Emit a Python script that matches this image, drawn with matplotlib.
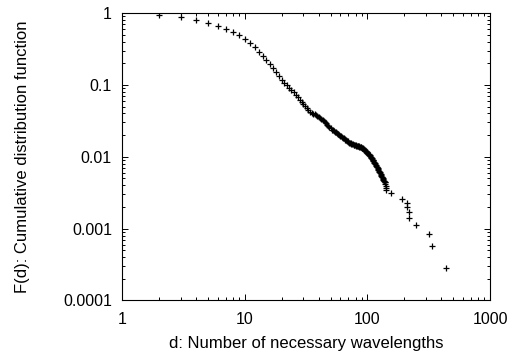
import matplotlib
matplotlib.use("Agg")
import matplotlib.pyplot as plt
from matplotlib.ticker import FixedLocator, FixedFormatter, LogLocator, NullFormatter

# Number of necessary wavelengths d
d_values = list(range(2, 144)) + [156, 190, 210, 211, 217, 218, 249, 319, 336, 439]

# Cumulative distribution function F(d)
F_values = [
    0.95, 0.88, 0.80, 0.735, 0.665, 0.60, 0.55, 0.494, 0.437,            # 2-10
    0.387, 0.337, 0.289, 0.252, 0.222, 0.196, 0.171, 0.152, 0.134, 0.118,  # 11-20
    0.1074, 0.0990, 0.0916, 0.0850, 0.079, 0.0728, 0.0673, 0.0624, 0.058, 0.0542,  # 21-30
    0.0509, 0.0478, 0.0450, 0.0424, 0.0411, 0.0399, 0.0388, 0.0378, 0.0368, 0.0358,  # 31-40
    0.0346, 0.0335, 0.0324, 0.0314, 0.0305, 0.0292, 0.0280, 0.0268, 0.0258, 0.0248,  # 41-50
    0.0238, 0.0233, 0.0227, 0.0222, 0.0218, 0.0213, 0.0209, 0.0204, 0.0200, 0.0196,  # 51-60
    0.0192, 0.0188, 0.0184, 0.0180, 0.0177, 0.0173, 0.0170, 0.0166, 0.0163, 0.0160,  # 61-70
    0.0157, 0.0155, 0.0154, 0.0152, 0.0151, 0.0149, 0.0148, 0.0147, 0.0146, 0.0145,  # 71-80
    0.0143, 0.0142, 0.0141, 0.0140, 0.0139, 0.0138, 0.0137, 0.0136, 0.0135, 0.0134,  # 81-90
    0.0132, 0.0131, 0.0129, 0.0126, 0.0124, 0.0122, 0.0120, 0.0118, 0.01156, 0.01132,  # 91-100
    0.01108, 0.01085, 0.01063, 0.01041, 0.0102, 0.00997, 0.00975, 0.00953, 0.00931, 0.00910,  # 101-110
    0.00890, 0.0087, 0.00848, 0.00827, 0.00807, 0.00787, 0.00767, 0.00748, 0.0073, 0.00710,  # 111-120
    0.00691, 0.00673, 0.00655, 0.00637, 0.0062, 0.00604, 0.00588, 0.00573, 0.00558, 0.00544,  # 121-130
    0.0053, 0.00517, 0.00505, 0.00492, 0.0048, 0.00467, 0.00455, 0.00442, 0.0044, 0.0042,  # 131-140
    0.00398, 0.0037, 0.0034,                                               # 141-143
    0.00312, 0.00256, 0.00227, 0.00199, 0.0017, 0.00142, 0.00114, 0.000852, 0.000568, 0.000284,
]

x_ticks = [1, 10, 100, 1000]
x_tick_labels = ["1", "10", "100", "1000"]
y_ticks = [0.0001, 0.001, 0.01, 0.1, 1]
y_tick_labels = ["0.0001", "0.001", "0.01", "0.1", "1"]

plt.rcParams["font.family"] = ["Liberation Sans", "DejaVu Sans"]
plt.rcParams["font.size"] = 11

fig = plt.figure(figsize=(5.26, 3.56), dpi=100)
ax = fig.add_axes([0.2325, 0.1559, 0.6991, 0.8076])

ax.plot(d_values, F_values, linestyle="none", marker="+", markersize=4.5,
        markeredgewidth=0.9, color="black")

ax.set_xscale("log")
ax.set_yscale("log")
ax.set_xlim(1, 1000)
ax.set_ylim(0.0001, 1)

ax.xaxis.set_major_locator(FixedLocator(x_ticks))
ax.xaxis.set_major_formatter(FixedFormatter(x_tick_labels))
ax.yaxis.set_major_locator(FixedLocator(y_ticks))
ax.yaxis.set_major_formatter(FixedFormatter(y_tick_labels))
ax.xaxis.set_minor_locator(LogLocator(base=10, subs=range(2, 10), numticks=20))
ax.yaxis.set_minor_locator(LogLocator(base=10, subs=range(2, 10), numticks=20))
ax.xaxis.set_minor_formatter(NullFormatter())
ax.yaxis.set_minor_formatter(NullFormatter())

ax.tick_params(which="both", direction="in", top=True, right=True, width=0.7, colors="black")
ax.tick_params(which="major", length=4.0, labelsize=11.5)
ax.tick_params(axis="y", which="major", pad=7.5)
ax.tick_params(axis="x", which="major", pad=8)
ax.tick_params(which="minor", length=2.0)
for s in ax.spines.values():
    s.set_linewidth(0.8)
    s.set_color("black")

ax.set_xlabel("d: Number of necessary wavelengths", fontsize=12, labelpad=7)
ax.set_ylabel("F(d): Cumulative distribution function", fontsize=12, labelpad=24)

fig.savefig("out.png", dpi=100)
